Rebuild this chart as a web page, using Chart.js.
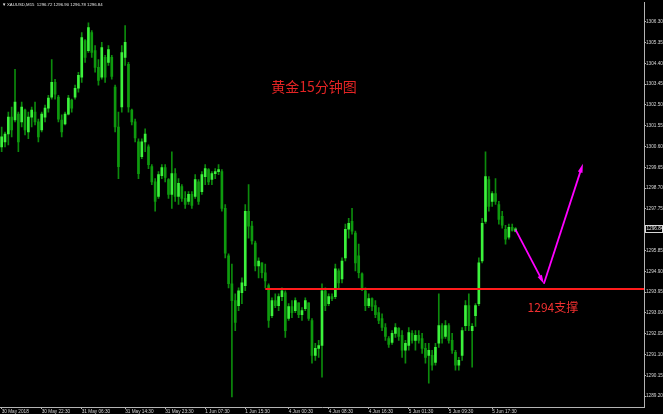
<!DOCTYPE html>
<html>
<head>
<meta charset="utf-8">
<script src="https://cdn.jsdelivr.net/npm/chart.js@4.4.1/dist/chart.umd.min.js"></script>
<style>
  html, body { margin: 0; padding: 0; background: #000; }
  canvas { display: block; }
</style>
</head>
<body>
<canvas id="chart" width="663" height="414"></canvas>
<script>
const symbol = 'XAUUSD,M15';
const lastQuote = ['1296.72', '1296.90', '1296.78', '1296.84'];

const opens = [
  1300.58, 1300.81, 1301.17, 1301.94, 1301.81, 1302.08, 1301.72, 1302.26, 1301.26, 1301.94,
  1302.17, 1301.72, 1301.36, 1301.94, 1302.35, 1302.85, 1303.53, 1302.85, 1301.81, 1301.63,
  1302.08, 1302.72, 1302.85, 1303.26, 1303.76, 1305.44, 1304.98, 1305.80, 1304.98, 1304.21,
  1303.76, 1304.67, 1304.44, 1304.67, 1303.31, 1301.49, 1302.40, 1304.67, 1304.35, 1302.26,
  1301.72, 1300.81, 1300.13, 1300.81, 1300.58, 1299.68, 1298.98, 1298.32, 1299.27, 1299.63,
  1299.09, 1298.41, 1299.36, 1298.32, 1298.77, 1298.23, 1298.09, 1298.41, 1298.32, 1298.98,
  1298.54, 1299.22, 1299.54, 1299.09, 1299.36, 1299.45, 1299.45, 1297.77, 1295.60, 1294.33,
  1293.56, 1293.33, 1293.92, 1294.24, 1297.64, 1296.96, 1296.19, 1295.14, 1295.28, 1294.83,
  1294.24, 1292.87, 1293.56, 1293.33, 1293.74, 1293.92, 1292.74, 1293.29, 1293.10, 1293.46,
  1292.92, 1293.19, 1293.46, 1292.65, 1291.06, 1291.38, 1291.51, 1294.01, 1293.42, 1293.74,
  1293.74, 1294.92, 1294.55, 1295.51, 1296.82, 1297.18, 1296.64, 1295.60, 1294.78, 1294.01,
  1293.33, 1293.65, 1293.33, 1293.01, 1292.74, 1292.33, 1291.83, 1291.65, 1292.06, 1292.29,
  1291.97, 1291.29, 1291.51, 1292.06, 1291.74, 1291.97, 1291.83, 1291.38, 1291.06, 1291.06,
  1290.74, 1291.61, 1292.42, 1291.92, 1292.42, 1291.74, 1291.20, 1290.61, 1291.06, 1292.42,
  1293.33, 1292.19, 1292.87, 1293.42, 1295.37, 1297.18, 1299.09, 1298.09, 1298.45, 1297.95,
  1297.41, 1296.82, 1296.46, 1296.91, 1296.72
];
const highs = [
  1301.49, 1301.26, 1302.17, 1302.40, 1304.12, 1302.17, 1302.63, 1302.31, 1302.17, 1302.40,
  1302.63, 1301.85, 1302.17, 1302.49, 1302.94, 1304.57, 1303.67, 1302.94, 1302.04, 1302.17,
  1302.94, 1302.76, 1303.40, 1303.99, 1305.80, 1305.48, 1306.25, 1305.89, 1305.21, 1304.57,
  1305.35, 1304.76, 1305.21, 1304.76, 1303.40, 1302.17, 1305.21, 1306.12, 1304.44, 1302.31,
  1301.85, 1300.95, 1300.95, 1301.40, 1300.67, 1299.77, 1299.13, 1299.45, 1299.77, 1299.77,
  1299.13, 1300.36, 1299.59, 1299.13, 1298.86, 1298.54, 1298.54, 1298.54, 1299.31, 1299.09,
  1299.45, 1299.77, 1299.59, 1299.45, 1299.59, 1299.77, 1299.54, 1297.95, 1295.69, 1295.23,
  1293.87, 1294.14, 1294.60, 1297.95, 1298.86, 1297.18, 1296.28, 1295.51, 1295.28, 1295.23,
  1294.33, 1293.69, 1293.87, 1293.87, 1294.14, 1294.01, 1293.42, 1293.56, 1293.69, 1293.46,
  1293.24, 1293.69, 1293.46, 1292.74, 1291.61, 1291.74, 1294.33, 1294.14, 1293.87, 1293.87,
  1295.23, 1295.01, 1295.51, 1297.05, 1297.32, 1297.77, 1296.73, 1296.14, 1294.83, 1294.14,
  1293.87, 1293.69, 1293.56, 1293.24, 1292.96, 1292.51, 1291.92, 1292.19, 1292.51, 1292.33,
  1292.19, 1291.74, 1292.33, 1292.19, 1292.19, 1292.19, 1292.06, 1291.61, 1291.61, 1291.29,
  1291.61, 1293.87, 1292.51, 1292.65, 1292.51, 1292.06, 1291.29, 1290.97, 1292.33, 1293.56,
  1293.87, 1292.51, 1293.42, 1295.51, 1297.32, 1300.36, 1299.22, 1298.54, 1299.13, 1298.09,
  1297.64, 1297.00, 1297.05, 1297.05, 1296.90
];
const lows = [
  1300.36, 1300.58, 1300.67, 1301.04, 1301.72, 1300.36, 1301.49, 1301.13, 1300.95, 1301.49,
  1301.58, 1300.81, 1301.26, 1301.72, 1302.17, 1302.76, 1302.76, 1301.72, 1301.04, 1301.58,
  1302.04, 1302.17, 1302.76, 1303.08, 1303.53, 1304.44, 1304.89, 1304.67, 1303.99, 1303.40,
  1303.67, 1303.53, 1304.30, 1303.67, 1301.26, 1299.13, 1302.17, 1304.30, 1302.17, 1301.58,
  1300.81, 1299.13, 1300.04, 1300.36, 1299.59, 1298.86, 1297.64, 1298.23, 1299.13, 1298.98,
  1298.23, 1297.77, 1298.09, 1297.95, 1298.09, 1297.77, 1297.95, 1297.77, 1298.23, 1297.95,
  1298.41, 1298.86, 1298.86, 1298.86, 1299.13, 1299.31, 1297.64, 1295.51, 1294.14, 1289.16,
  1292.19, 1293.10, 1293.42, 1294.01, 1296.41, 1296.14, 1294.92, 1294.60, 1294.60, 1294.14,
  1292.33, 1292.78, 1293.24, 1293.10, 1293.56, 1291.88, 1292.65, 1292.78, 1293.01, 1292.78,
  1292.65, 1293.10, 1292.65, 1290.70, 1290.83, 1290.97, 1290.06, 1293.10, 1293.33, 1293.56,
  1293.65, 1294.14, 1294.37, 1295.37, 1296.41, 1296.59, 1294.92, 1294.60, 1294.01, 1293.10,
  1293.24, 1293.10, 1292.78, 1292.51, 1292.19, 1291.74, 1291.42, 1291.56, 1291.88, 1291.74,
  1290.97, 1290.70, 1291.29, 1291.61, 1291.29, 1291.61, 1291.15, 1290.70, 1289.79, 1290.38,
  1290.61, 1291.42, 1291.61, 1291.83, 1291.61, 1291.15, 1290.38, 1290.38, 1290.83, 1292.19,
  1292.19, 1290.52, 1292.38, 1293.33, 1295.28, 1297.09, 1297.64, 1297.86, 1297.95, 1297.05,
  1296.87, 1296.14, 1296.37, 1296.73, 1296.70
];
const closes = [
  1301.04, 1301.17, 1301.94, 1301.36, 1302.63, 1300.81, 1302.40, 1301.36, 1301.94, 1302.26,
  1301.72, 1301.04, 1302.08, 1302.35, 1302.81, 1303.53, 1302.99, 1301.85, 1301.26, 1302.08,
  1302.81, 1302.35, 1303.26, 1303.85, 1305.57, 1304.67, 1306.03, 1304.89, 1304.21, 1303.62,
  1305.12, 1303.76, 1305.03, 1303.80, 1301.49, 1299.68, 1304.89, 1305.35, 1302.40, 1301.72,
  1300.99, 1299.36, 1300.81, 1301.17, 1299.77, 1298.98, 1298.09, 1299.31, 1299.63, 1299.18,
  1298.41, 1299.36, 1298.32, 1298.91, 1298.23, 1297.95, 1298.41, 1297.91, 1299.09, 1298.09,
  1299.31, 1299.59, 1298.98, 1299.36, 1299.45, 1299.54, 1297.77, 1295.73, 1294.33, 1293.56,
  1292.56, 1294.01, 1294.37, 1297.64, 1296.96, 1296.28, 1295.14, 1295.37, 1294.83, 1294.46,
  1292.65, 1293.56, 1293.33, 1293.74, 1294.01, 1292.19, 1293.29, 1293.01, 1293.56, 1292.92,
  1293.10, 1293.56, 1292.74, 1291.06, 1291.38, 1291.51, 1294.01, 1293.33, 1293.74, 1293.65,
  1295.01, 1294.37, 1295.37, 1296.82, 1297.09, 1296.73, 1295.28, 1294.83, 1294.14, 1293.33,
  1293.65, 1293.29, 1292.92, 1292.65, 1292.33, 1291.92, 1291.56, 1292.06, 1292.33, 1291.92,
  1291.29, 1291.61, 1292.10, 1291.74, 1291.97, 1291.74, 1291.38, 1290.97, 1291.29, 1290.61,
  1291.42, 1292.42, 1291.83, 1292.42, 1291.74, 1291.29, 1290.61, 1290.83, 1292.19, 1293.33,
  1292.42, 1292.38, 1293.33, 1295.28, 1297.09, 1299.22, 1297.86, 1298.45, 1298.09, 1297.27,
  1297.00, 1296.37, 1296.91, 1296.77, 1296.84
];

// time axis labels and the candle slot they sit on
const timeLabels = ['30 May 2018', '30 May 22:30', '31 May 06:30', '31 May 14:30', '31 May 23:30',
  '1 Jun 07:30', '1 Jun 15:30', '4 Jun 00:30', '4 Jun 08:30', '4 Jun 16:30',
  '5 Jun 01:30', '5 Jun 09:30', '5 Jun 17:30'];
const timeSlots = [0, 12, 24, 37, 49, 61, 73, 86, 98, 110, 122, 134, 147];

const priceTicks = [1306.30, 1305.35, 1304.40, 1303.45, 1302.50, 1301.55, 1300.60, 1299.65,
  1298.70, 1297.75, 1296.80, 1295.85, 1294.90, 1293.95, 1293.00, 1292.05, 1291.10, 1290.15, 1289.20];

// drawn objects
const supportLevel = 1294.10;
const supportFromSlot = 79;
const arrowSlots = [154, 162.5, 174.2];
const arrowPrices = [1296.80, 1294.33, 1299.81];
const titleText = '黄金15分钟图';
const supportText = '1294支撑';

const slotCount = 193; // chart keeps empty room on the right
const slots = Array.from({ length: slotCount }, (_, i) => String(i));
const isUp = closes.map((c, i) => c >= opens[i]);

const axisColor = '#b4b4b4';
const labelFont = { family: 'Liberation Sans', size: 4.7 };

function drawArrow(ctx, x0, y0, x1, y1) {
  const ang = Math.atan2(y1 - y0, x1 - x0);
  const head = 9;
  ctx.beginPath();
  ctx.moveTo(x0, y0);
  ctx.lineTo(x1 - Math.cos(ang) * head * 0.6, y1 - Math.sin(ang) * head * 0.6);
  ctx.stroke();
  ctx.beginPath();
  ctx.moveTo(x1, y1);
  ctx.lineTo(x1 - head * Math.cos(ang) + 2.4 * Math.sin(ang), y1 - head * Math.sin(ang) - 2.4 * Math.cos(ang));
  ctx.lineTo(x1 - head * Math.cos(ang) - 2.4 * Math.sin(ang), y1 - head * Math.sin(ang) + 2.4 * Math.cos(ang));
  ctx.closePath();
  ctx.fill();
}

const annotations = {
  id: 'annotations',
  afterDatasetsDraw(chart) {
    const { ctx, chartArea, scales: { x, y } } = chart;
    ctx.save();

    // support line
    const ly = Math.round(y.getPixelForValue(supportLevel));
    ctx.strokeStyle = '#ff1c1c';
    ctx.lineWidth = 2;
    ctx.beginPath();
    ctx.moveTo(x.getPixelForValue(supportFromSlot), ly);
    ctx.lineTo(chartArea.right, ly);
    ctx.stroke();

    // forecast arrows
    ctx.strokeStyle = '#ff00ff';
    ctx.fillStyle = '#ff00ff';
    ctx.lineWidth = 1.8;
    for (let k = 1; k < arrowSlots.length; k++) {
      drawArrow(ctx,
        x.getPixelForValue(arrowSlots[k - 1]), y.getPixelForValue(arrowPrices[k - 1]),
        x.getPixelForValue(arrowSlots[k]), y.getPixelForValue(arrowPrices[k]));
    }

    // texts
    ctx.textBaseline = 'middle';
    ctx.textAlign = 'center';
    ctx.fillStyle = '#e42424';
    ctx.font = '14px "Noto Sans CJK SC"';
    ctx.fillText(titleText, x.getPixelForValue(93.6), y.getPixelForValue(1303.35));
    ctx.fillStyle = '#f03030';
    ctx.font = '12px "Noto Sans CJK SC"';
    ctx.fillText(supportText, x.getPixelForValue(165.2), y.getPixelForValue(1293.24));
    ctx.restore();
  },
  afterDraw(chart) {
    const { ctx, chartArea, scales: { y } } = chart;
    ctx.save();
    // header
    ctx.fillStyle = '#e6e6e6';
    ctx.textBaseline = 'middle';
    ctx.font = '4.3px "Liberation Sans"';
    ctx.fillText('▼', 2, 4.5);
    ctx.fillText(symbol + '  ' + lastQuote.join(' '), 7, 4.5);

    // last price box on the price scale
    const py = Math.round(y.getPixelForValue(parseFloat(lastQuote[3])));
    ctx.fillStyle = '#000';
    ctx.fillRect(chartArea.right + 1, py - 4, 18, 8);
    ctx.strokeStyle = '#d8d8d8';
    ctx.lineWidth = 1;
    ctx.strokeRect(chartArea.right + 1.5, py - 3.5, 17, 7);
    ctx.fillStyle = '#e8e8e8';
    ctx.font = '4.7px "Liberation Sans"';
    ctx.fillText(lastQuote[3], chartArea.right + 2.5, py);
    ctx.restore();
  }
};

const ctx = document.getElementById('chart').getContext('2d');
new Chart(ctx, {
  type: 'bar',
  data: {
    labels: slots,
    datasets: [
      {
        label: 'wick',
        data: lows.map((l, i) => [l, highs[i]]),
        backgroundColor: '#0c8a0c',
        barThickness: 1,
        grouped: false,
        order: 2
      },
      {
        label: 'body',
        data: opens.map((o, i) => [o, closes[i]]),
        backgroundColor: isUp.map(u => u ? '#3cf23c' : '#0e9a0e'),
        barThickness: 2,
        minBarLength: 1,
        grouped: false,
        order: 1
      }
    ]
  },
  options: {
    responsive: false,
    animation: false,
    devicePixelRatio: 1,
    layout: { padding: 0 },
    plugins: {
      legend: { display: false },
      tooltip: { enabled: false }
    },
    scales: {
      x: {
        offset: true,
        grid: { drawOnChartArea: false, offset: false, tickLength: 2, color: axisColor },
        border: { color: axisColor },
        ticks: {
          autoSkip: false,
          maxRotation: 0,
          align: 'start',
          padding: 0,
          color: '#d6d6d6',
          font: labelFont,
          callback: (v, i) => timeLabels[i]
        },
        afterBuildTicks: s => { s.ticks = timeSlots.map(v => ({ value: v })); },
        afterFit: s => { s.height = 7; }
      },
      y: {
        position: 'right',
        min: 1288.70,
        max: 1307.16,
        grid: { drawOnChartArea: false, tickLength: 2, color: axisColor },
        border: { color: axisColor },
        ticks: {
          padding: 0,
          color: '#d6d6d6',
          font: labelFont,
          callback: v => v.toFixed(2)
        },
        afterBuildTicks: s => { s.ticks = priceTicks.map(v => ({ value: v })); },
        afterFit: s => { s.width = 19; }
      }
    }
  },
  plugins: [annotations]
});
</script>
</body>
</html>
